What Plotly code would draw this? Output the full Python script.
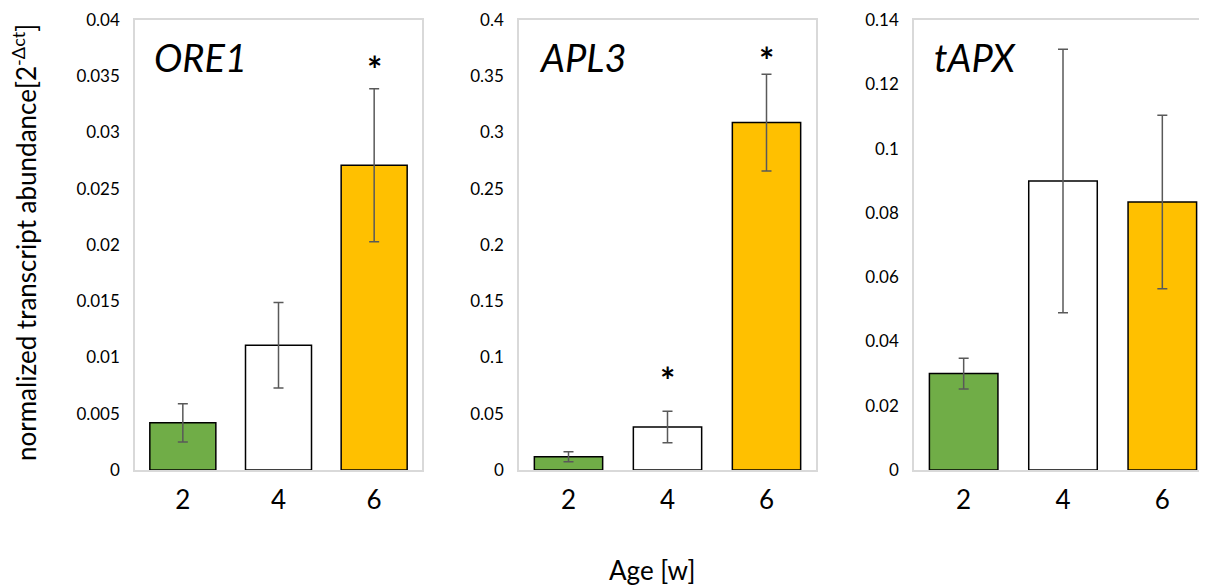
import plotly.graph_objects as go

ages = ["2", "4", "6"]
genes = ["ORE1", "APL3", "tAPX"]
colors = ["#70ad47", "#ffffff", "#ffc000"]

ore1_vals = [0.0042, 0.0111, 0.0271]
ore1_err = [0.0017, 0.0038, 0.0068]
apl3_vals = [0.0118, 0.0382, 0.3088]
apl3_err = [0.0045, 0.0140, 0.0430]
tapx_vals = [0.0300, 0.0899, 0.0834]
tapx_err = [0.0048, 0.0410, 0.0270]

yranges = [[0, 0.04], [0, 0.4], [0, 0.14]]
ydticks = [0.005, 0.05, 0.02]

# significance markers: (panel index, category, y-position)
stars_panel = [0, 1, 1]
stars_cat = ["6", "4", "6"]
stars_y = [0.0364, 0.087, 0.372]

W, H = 1207, 586
OFF = 8  # page body margin
domains_px = [(135 - OFF, 422 - OFF), (519 - OFF, 816 - OFF), (914 - OFF, 1212 - OFF)]

FONT = "Lato, Open Sans, sans-serif"

fig = go.Figure()
vals_all = [ore1_vals, apl3_vals, tapx_vals]
errs_all = [ore1_err, apl3_err, tapx_err]

for i in range(3):
    xa = "x" if i == 0 else f"x{i+1}"
    ya = "y" if i == 0 else f"y{i+1}"
    fig.add_trace(go.Bar(
        x=ages, y=vals_all[i],
        marker=dict(color=colors, line=dict(color="black", width=1.5)),
        error_y=dict(type="data", array=errs_all[i], color="#595959",
                     thickness=1.5, width=5),
        xaxis=xa, yaxis=ya, showlegend=False,
    ))
    lo, hi = domains_px[i]
    axkey = "xaxis" if i == 0 else f"xaxis{i+1}"
    aykey = "yaxis" if i == 0 else f"yaxis{i+1}"
    fig.layout[axkey] = dict(
        type="category",
        domain=[lo / W, hi / W], anchor=ya,
        showline=True, mirror=True, linecolor="#d9d9d9", linewidth=1.5,
        ticks="", tickfont=dict(size=26, color="black", family=FONT),
        ticklabelstandoff=6, showgrid=False, zeroline=False,
    )
    fig.layout[aykey] = dict(
        domain=[0, 1], anchor=xa, range=yranges[i], dtick=ydticks[i],
        showline=True, mirror=True, linecolor="#d9d9d9", linewidth=1.5,
        ticks="", tickfont=dict(size=17, color="black", family=FONT),
        ticklabelstandoff=10, showgrid=False, zeroline=False,
    )
    fig.add_annotation(
        xref=f"{xa} domain", yref=f"{ya} domain", x=0.06, y=0.918,
        xanchor="left", yanchor="middle", showarrow=False,
        text=f"<i>{genes[i]}</i>", font=dict(size=38, color="black", family=FONT),
    )

for p, c, yv in zip(stars_panel, stars_cat, stars_y):
    xa = "x" if p == 0 else f"x{p+1}"
    ya = "y" if p == 0 else f"y{p+1}"
    fig.add_annotation(x=ages.index(c), y=yv, xref=xa, yref=ya, text="<b>*</b>",
                       showarrow=False, yshift=-8,
                       font=dict(size=36, color="black", family=FONT),
                       yanchor="middle")

PLOT_TOP, PLOT_H = 20 - OFF, 450
fig.add_annotation(xref="paper", yref="paper", x=(652 - OFF) / W,
                   y=1 - (570 - OFF - PLOT_TOP) / PLOT_H,
                   text="Age [w]", showarrow=False, xanchor="center", yanchor="middle",
                   font=dict(size=26, color="black", family=FONT))
fig.add_annotation(xref="paper", yref="paper", x=(24 - OFF) / W,
                   y=1 - (243 - OFF - PLOT_TOP) / PLOT_H,
                   text="normalized transcript abundance[2<sup>-Δct</sup>]",
                   textangle=-90, showarrow=False, xanchor="center", yanchor="middle",
                   font=dict(size=26, color="black", family=FONT))

fig.update_layout(
    width=W, height=H,
    margin=dict(l=0, r=0, t=PLOT_TOP, b=H - PLOT_TOP - PLOT_H),
    bargap=0.31,
    plot_bgcolor="white", paper_bgcolor="white",
    font=dict(family=FONT, color="black"),
)

fig.write_html("out.html")
